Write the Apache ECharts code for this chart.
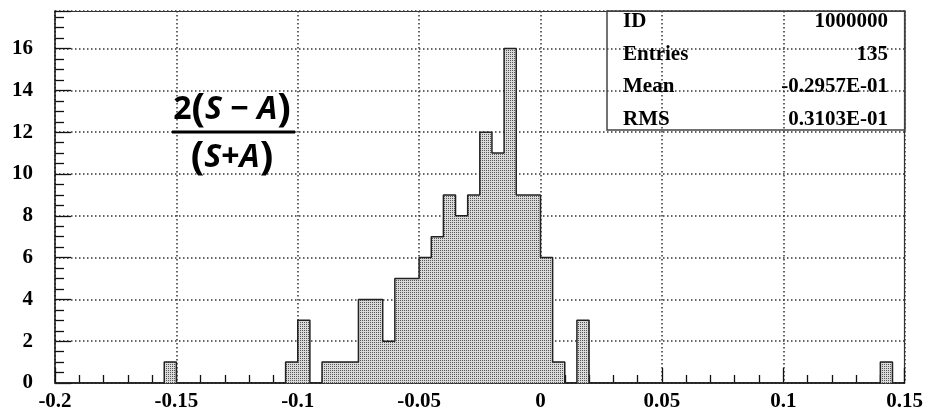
<!DOCTYPE html>
<html>
<head>
<meta charset="utf-8">
<script src="https://cdn.jsdelivr.net/npm/echarts@6/dist/echarts.min.js"></script>
<style>
  html, body { margin: 0; padding: 0; background: #fff; }
  #chart { width: 926px; height: 413px; }
</style>
</head>
<body>
<div id="chart"></div>
<script>
  // histogram bins: 70 bins of 0.005 from -0.2 to 0.15
  const binStart = -0.2;
  const binWidth = 0.005;
  const counts = [
    0, 0, 0, 0, 0, 0, 0, 0, 0, 1,   // -0.2 .. -0.155
    0, 0, 0, 0, 0, 0, 0, 0, 0, 1,   // -0.15 .. -0.105
    3, 0, 1, 1, 1, 4, 4, 2, 5, 5,   // -0.1 .. -0.055
    6, 7, 9, 8, 9, 12, 11, 16, 9, 9, // -0.05 .. -0.005
    6, 1, 0, 3, 0, 0, 0, 0, 0, 0,   // 0 .. 0.045
    0, 0, 0, 0, 0, 0, 0, 0, 0, 0,   // 0.05 .. 0.095
    0, 0, 0, 0, 0, 0, 0, 0, 1, 0    // 0.1 .. 0.145
  ];
  const xTicks = [-0.2, -0.15, -0.1, -0.05, 0, 0.05, 0.1, 0.15];
  const statLabels = ['ID', 'Entries', 'Mean', 'RMS'];
  const statValues = ['1000000', '135', '-0.2957E-01', '0.3103E-01'];

  // step outline points
  let points = [];
  for (let i = 0; i < counts.length; i++) {
    points.push([binStart + i * binWidth, counts[i]]);
  }
  points.push([binStart + counts.length * binWidth, 0]);

  // dotted grey fill
  let pat = document.createElement('canvas');
  pat.width = 2; pat.height = 2;
  let pc = pat.getContext('2d');
  pc.fillStyle = '#dadada';
  pc.fillRect(0, 0, 2, 2);
  pc.fillStyle = '#555';
  pc.fillRect(0, 0, 1, 1);

  const serif = 'Liberation Serif';
  const frame = {
    show: true, min: 0, max: 1,
    axisLine: { show: true, onZero: false, lineStyle: { color: '#333', width: 1.2 } },
    axisTick: { show: false }, axisLabel: { show: false }, splitLine: { show: false }
  };

  let chart = echarts.init(document.getElementById('chart'));
  let option = {
    animation: false,
    backgroundColor: '#fff',
    grid: { left: 55, right: 21, top: 11, bottom: 30 },
    xAxis: [
      {
        type: 'value',
        min: -0.2, max: 0.15, interval: 0.05,
        axisLine: { onZero: false, lineStyle: { color: '#111', width: 1.5 } },
        axisTick: { inside: true, length: 15, lineStyle: { color: '#111', width: 1.3 } },
        minorTick: { show: true, splitNumber: 5, length: 8, lineStyle: { color: '#111', width: 1.3 } },
        splitLine: { show: true, lineStyle: { color: '#333', width: 1.5, type: [1.5, 2.5] } },
        axisLabel: {
          margin: 8,
          color: '#000', fontFamily: serif, fontWeight: 'bold', fontSize: 21,
          formatter: v => {
            let t = xTicks.find(x => Math.abs(x - v) < 1e-9);
            return t === undefined ? '' : String(t);
          }
        }
      },
      Object.assign({}, frame, { type: 'value', position: 'top' })
    ],
    yAxis: [
      {
        type: 'value',
        min: 0, max: 17.8, interval: 2,
        axisLine: { show: true, onZero: false, lineStyle: { color: '#111', width: 1.5 } },
        axisTick: { show: true, inside: true, length: 16, lineStyle: { color: '#111', width: 1.3 } },
        minorTick: { show: true, splitNumber: 4, length: 9, lineStyle: { color: '#111', width: 1.3 } },
        splitLine: { show: true, lineStyle: { color: '#333', width: 1.5, type: [1.5, 2.5] } },
        axisLabel: {
          margin: 22,
          color: '#000', fontFamily: serif, fontWeight: 'bold', fontSize: 21,
          formatter: v => (Math.abs(v % 2) < 1e-9 && v <= 16 ? String(v) : '')
        }
      },
      Object.assign({}, frame, { type: 'value', position: 'right' })
    ],
    series: [
      {
        type: 'line',
        step: 'end',
        symbol: 'none',
        data: points,
        lineStyle: { color: '#222', width: 1.5 },
        areaStyle: { color: { image: pat, repeat: 'repeat' }, opacity: 1 },
        z: 3
      }
    ],
    graphic: [
      // formula
      {
        type: 'text', x: 232, y: 110, z: 10,
        style: {
          text: '{n|2}{p|(}{i|S}{o| − }{i|A}{p|)}',
          align: 'center', verticalAlign: 'middle',
          rich: {
            n: { fontFamily: 'Noto Sans', fontWeight: 'bold', fontSize: 32, fill: '#000' },
            p: { fontFamily: 'Noto Sans', fontWeight: 'bold', fontSize: 40, fill: '#000' },
            i: { fontFamily: 'Noto Sans', fontWeight: 'bold', fontStyle: 'italic', fontSize: 32, fill: '#000' },
            o: { fontFamily: 'Noto Sans', fontWeight: 'bold', fontSize: 32, fill: '#000' }
          }
        }
      },
      {
        type: 'line', z: 10,
        shape: { x1: 172, y1: 132, x2: 295, y2: 132 },
        style: { stroke: '#000', lineWidth: 2.8 }
      },
      {
        type: 'text', x: 232, y: 158, z: 10,
        style: {
          text: '{p|(}{i|S}{o|+}{i|A}{p|)}',
          align: 'center', verticalAlign: 'middle',
          rich: {
            p: { fontFamily: 'Noto Sans', fontWeight: 'bold', fontSize: 40, fill: '#000' },
            i: { fontFamily: 'Noto Sans', fontWeight: 'bold', fontStyle: 'italic', fontSize: 32, fill: '#000' },
            o: { fontFamily: 'Noto Sans', fontWeight: 'bold', fontSize: 32, fill: '#000' }
          }
        }
      },
      // stats box
      {
        type: 'rect', z: 10,
        shape: { x: 607, y: 11, width: 298, height: 119 },
        style: { fill: 'none', stroke: '#444', lineWidth: 1.5 }
      }
    ].concat(statLabels.map((s, k) => ({
      type: 'text', x: 623, y: 22 + k * 32.5, z: 10,
      style: {
        text: s, align: 'left', verticalAlign: 'middle',
        font: 'bold 21px "Liberation Serif"', fill: '#000'
      }
    }))).concat(statValues.map((s, k) => ({
      type: 'text', x: 888, y: 22 + k * 32.5, z: 10,
      style: {
        text: s, align: 'right', verticalAlign: 'middle',
        font: 'bold 21px "Liberation Serif"', fill: '#000'
      }
    })))
  };
  chart.setOption(option);
</script>
</body>
</html>
